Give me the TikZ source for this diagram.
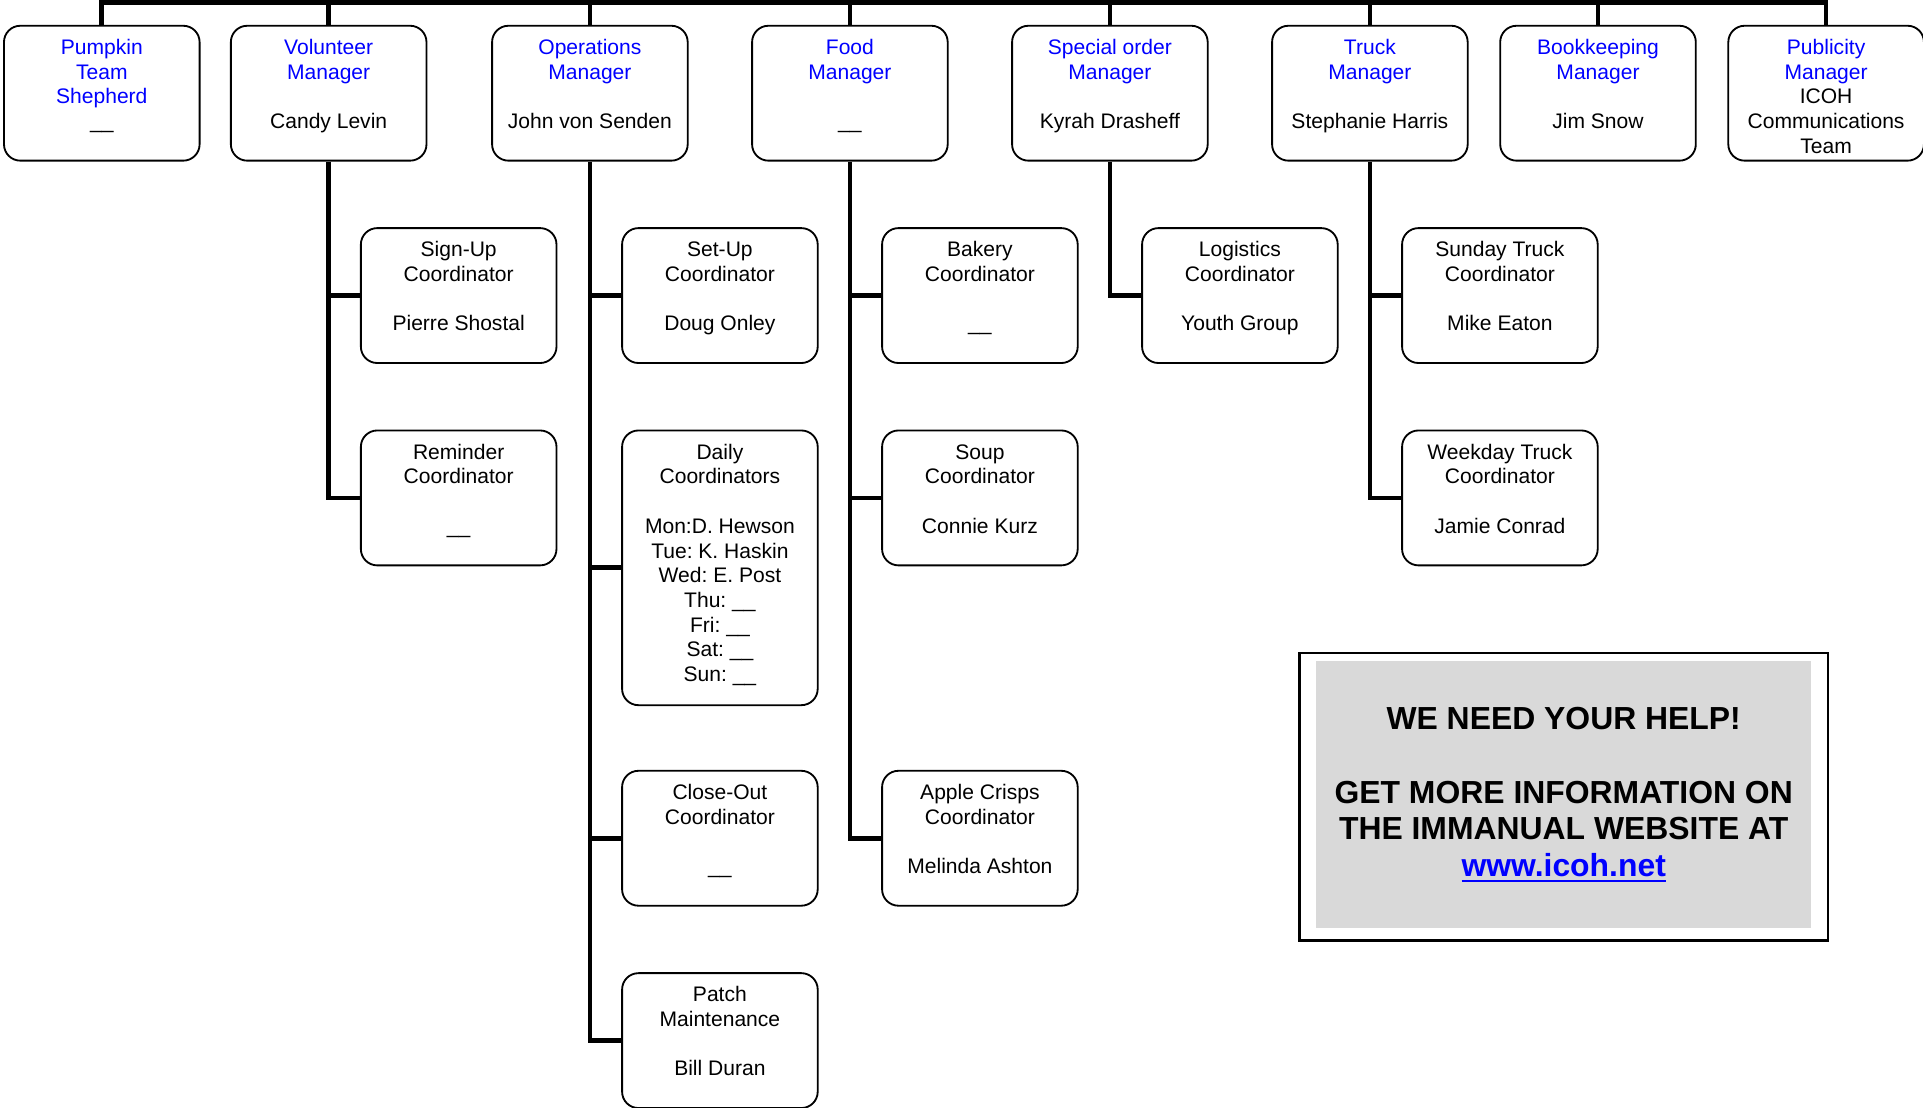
\documentclass[tikz,border=0pt]{standalone}
\usepackage{fontspec}
\setmainfont{Liberation Sans}
\usepackage{xcolor}
\usepackage{tikz}
\usetikzlibrary{positioning,calc}
\frenchspacing

\definecolor{helpgray}{RGB}{217,217,217}
\newcommand{\role}[1]{\textcolor{blue}{#1}}
\newcommand{\cardtext}[2][66pt]{\parbox[c][#1][t]{95.7pt}{\centering\rule{0pt}{14pt}#2}}
\newcommand{\weblink}[1]{\sbox0{#1}\rlap{\rule[-2.6pt]{\wd0}{1.1pt}}\usebox0}

\begin{document}
\begin{tikzpicture}[x=0.6pt,y=-0.6pt,node distance=99pt,
			conn/.style={line width=2.3pt}]
			\tikzstyle{card}=[draw=black,line width=0.9pt,fill=white,rounded corners=8pt,inner sep=0pt,
			font=\fontsize{10.3}{12.1}\selectfont]
			\tikzstyle{helpbox}=[fill=helpgray,minimum width=242.4pt,minimum height=130.8pt,inner sep=0pt,
			align=center,font=\bfseries\fontsize{15.6}{18}\selectfont]
			
			\useasboundingbox (0,0) rectangle (1568,903);
			\coordinate (bus) at (0,2);
			
			\node[card]    (M1) at (83,76)		{\cardtext{\role{Pumpkin\\Team\\Shepherd}\\\_\_}};
			\node[card]    (M2)[right of = M1, xshift=12pt]		{\cardtext{\role{Volunteer\\Manager}\\[12.1pt]Candy Levin}};
			\node[card]    (M3)[right of = M2, xshift=28.8pt]		{\cardtext{\role{Operations\\Manager}\\[12.1pt]John von Senden}};
			\node[card]    (M4)[right of = M3, xshift=28.2pt]		{\cardtext{\role{Food\\Manager}\\[12.1pt]\_\_}};
			\node[card]    (M5)[right of = M4, xshift=28.2pt]		{\cardtext{\role{Special order\\Manager}\\[12.1pt]Kyrah Drasheff}};
			\node[card]    (M6)[right of = M5, xshift=28.2pt]		{\cardtext{\role{Truck\\Manager}\\[12.1pt]Stephanie Harris}};
			\node[card]    (M7)[right of = M6, xshift=12.6pt]		{\cardtext{\role{Bookkeeping\\Manager}\\[12.1pt]Jim Snow}};
			\node[card]    (M8)[right of = M7, xshift=12.6pt]		{\cardtext{\role{Publicity\\Manager}\\ICOH\\Communications\\Team}};
			
			\node[card]    (C1)[below of = M2, xshift=63.6pt]		{\cardtext{Sign-Up\\Coordinator\\[12.1pt]Pierre Shostal}};
			\node[card]    (C2)[below of = C1]		{\cardtext{Reminder\\Coordinator\\[12.1pt]\_\_}};
			\node[card]    (C3)[below of = M3, xshift=63.6pt]		{\cardtext{Set-Up\\Coordinator\\[12.1pt]Doug Onley}};
			\node[card]    (C4)[below of = C3, yshift=-34.2pt]		{\cardtext[134.4pt]{Daily\\Coordinators\\[12.1pt]Mon:D. Hewson\\Tue: K. Haskin\\Wed: E. Post\\Thu: \_\_\\Fri: \_\_\\Sat: \_\_\\Sun: \_\_}};
			\node[card]    (C5)[below of = C4, yshift=-33.3pt]		{\cardtext{Close-Out\\Coordinator\\[12.1pt]\_\_}};
			\node[card]    (C6)[below of = C5]		{\cardtext{Patch\\Maintenance\\[12.1pt]Bill Duran}};
			\node[card]    (C7)[below of = M4, xshift=63.6pt]		{\cardtext{Bakery\\Coordinator\\[12.1pt]\_\_}};
			\node[card]    (C8)[below of = C7]		{\cardtext{Soup\\Coordinator\\[12.1pt]Connie Kurz}};
			\node[card]    (C9)[below of = C8, yshift=-67.5pt]		{\cardtext{Apple Crisps\\Coordinator\\[12.1pt]Melinda Ashton}};
			\node[card]    (C10)[below of = M5, xshift=63.6pt]		{\cardtext{Logistics\\Coordinator\\[12.1pt]Youth Group}};
			\node[card]    (C11)[below of = M6, xshift=63.6pt]		{\cardtext{Sunday Truck\\Coordinator\\[12.1pt]Mike Eaton}};
			\node[card]    (C12)[below of = C11]		{\cardtext{Weekday Truck\\Coordinator\\[12.1pt]Jamie Conrad}};
			
			\node[helpbox] (help) at (1275,648)		{WE NEED YOUR HELP!\\[18pt]GET MORE INFORMATION ON\\THE IMMANUAL WEBSITE AT\\\textcolor{blue}{\weblink{www.icoh.net}}};
			\draw[line width=1.1pt] ($(help.north west)+(-13,-6.5)$) rectangle ($(help.south east)+(13,9.5)$);
			
			\draw[conn] (M1.north) |- (M8.north |- bus) -- (M8.north);
			\foreach \m in {M2,M3,M4,M5,M6,M7}
			\draw[conn] (\m.north) -- (\m.north |- bus);
			
			\draw[conn] (M2.south) |- (C2.west);
			\draw[conn] (M2.south |- C1.west) -- (C1.west);
			\draw[conn] (M3.south) |- (C6.west);
			\foreach \c in {C3,C4,C5}
			\draw[conn] (M3.south |- \c.west) -- (\c.west);
			\draw[conn] (M4.south) |- (C9.west);
			\foreach \c in {C7,C8}
			\draw[conn] (M4.south |- \c.west) -- (\c.west);
			\draw[conn] (M5.south) |- (C10.west);
			\draw[conn] (M6.south) |- (C12.west);
			\draw[conn] (M6.south |- C11.west) -- (C11.west);
\end{tikzpicture}
\end{document}
